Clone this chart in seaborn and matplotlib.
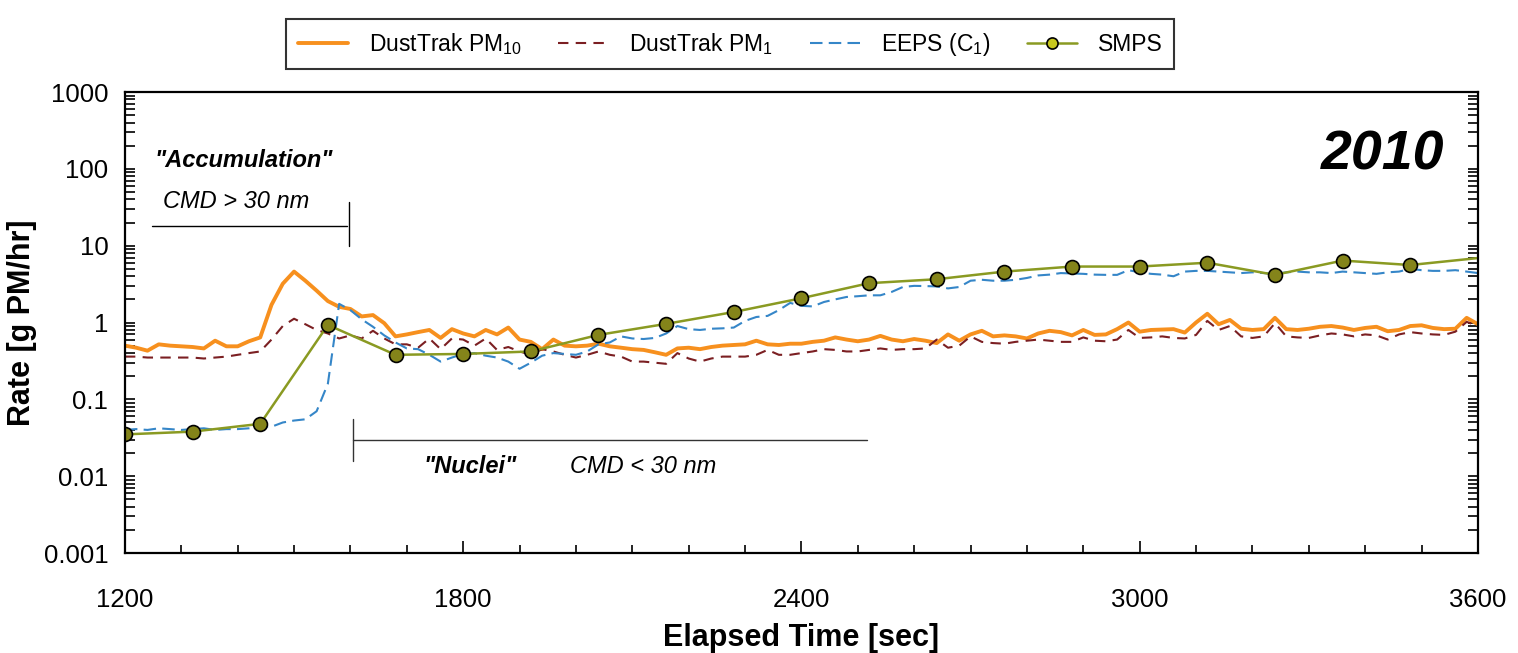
import numpy as np
import pandas as pd
import matplotlib
matplotlib.use("Agg")
import matplotlib.pyplot as plt
import matplotlib.ticker as mticker
import seaborn as sns

# Elapsed time grid for the continuous instruments (20 s spacing)
time_cont = np.arange(1200, 3601, 20)

# DustTrak PM10 [g PM/hr]
pm10 = [
    0.50, 0.47, 0.43, 0.52, 0.50, 0.49, 0.48, 0.46, 0.58, 0.49,
    0.49, 0.57, 0.64, 1.70, 3.20, 4.60, 3.50, 2.60, 1.90, 1.60,
    1.50, 1.20, 1.25, 0.98, 0.66, 0.70, 0.75, 0.80, 0.63, 0.82,
    0.72, 0.66, 0.80, 0.70, 0.86, 0.60, 0.56, 0.45, 0.60, 0.50,
    0.49, 0.50, 0.53, 0.49, 0.47, 0.45, 0.44, 0.41, 0.38, 0.46,
    0.47, 0.45, 0.48, 0.50, 0.51, 0.52, 0.58, 0.52, 0.51, 0.53,
    0.53, 0.56, 0.58, 0.64, 0.60, 0.57, 0.60, 0.67, 0.60, 0.57,
    0.61, 0.58, 0.54, 0.70, 0.58, 0.70, 0.78, 0.66, 0.68, 0.66,
    0.62, 0.72, 0.78, 0.75, 0.68, 0.80, 0.69, 0.70, 0.82, 1.00,
    0.76, 0.80, 0.81, 0.82, 0.74, 1.00, 1.30, 0.95, 1.08, 0.83,
    0.80, 0.82, 1.15, 0.82, 0.80, 0.83, 0.88, 0.90, 0.86, 0.80,
    0.85, 0.88, 0.77, 0.80, 0.90, 0.92, 0.85, 0.82, 0.83, 1.15,
    0.95,
]

# DustTrak PM1 [g PM/hr]
pm1 = [
    0.36, 0.36, 0.35, 0.35, 0.35, 0.35, 0.35, 0.34, 0.35, 0.36,
    0.38, 0.40, 0.42, 0.60, 0.90, 1.12, 0.95, 0.80, 0.72, 0.62,
    0.68, 0.62, 0.78, 0.62, 0.52, 0.52, 0.47, 0.62, 0.45, 0.62,
    0.60, 0.50, 0.62, 0.44, 0.48, 0.42, 0.38, 0.45, 0.42, 0.38,
    0.35, 0.38, 0.42, 0.38, 0.36, 0.31, 0.31, 0.30, 0.29, 0.40,
    0.34, 0.31, 0.34, 0.36, 0.36, 0.36, 0.38, 0.44, 0.38, 0.38,
    0.40, 0.42, 0.45, 0.44, 0.42, 0.42, 0.44, 0.46, 0.44, 0.45,
    0.45, 0.46, 0.60, 0.47, 0.50, 0.66, 0.56, 0.54, 0.53, 0.56,
    0.58, 0.60, 0.58, 0.56, 0.56, 0.64, 0.58, 0.57, 0.60, 0.80,
    0.63, 0.64, 0.66, 0.63, 0.62, 0.69, 1.05, 0.80, 0.90, 0.66,
    0.63, 0.66, 0.98, 0.66, 0.64, 0.63, 0.68, 0.72, 0.70, 0.66,
    0.70, 0.68, 0.60, 0.70, 0.75, 0.72, 0.70, 0.69, 0.76, 1.02,
    0.90,
]

# EEPS (C1) [g PM/hr]
eeps = [
    0.040, 0.041, 0.040, 0.042, 0.041, 0.040, 0.041, 0.042, 0.040, 0.041,
    0.041, 0.042, 0.044, 0.044, 0.050, 0.053, 0.055, 0.070, 0.16, 1.75,
    1.45, 1.10, 0.88, 0.68, 0.55, 0.46, 0.45, 0.38, 0.31, 0.35,
    0.39, 0.40, 0.37, 0.35, 0.31, 0.25, 0.30, 0.37, 0.40, 0.39,
    0.38, 0.42, 0.52, 0.55, 0.66, 0.62, 0.61, 0.63, 0.72, 0.90,
    0.82, 0.80, 0.83, 0.84, 0.86, 1.05, 1.18, 1.22, 1.45, 1.80,
    1.65, 1.62, 1.85, 2.00, 2.15, 2.20, 2.26, 2.26, 2.50, 2.90,
    3.00, 2.98, 2.95, 2.78, 2.90, 3.50, 3.60, 3.50, 3.50, 3.60,
    3.80, 4.10, 4.20, 4.40, 4.35, 4.30, 4.20, 4.17, 4.17, 4.80,
    4.50, 4.30, 4.20, 4.00, 4.60, 4.70, 4.70, 4.60, 4.50, 4.40,
    4.50, 4.40, 4.30, 4.50, 4.60, 4.50, 4.50, 4.40, 4.60, 4.50,
    4.40, 4.30, 4.50, 4.60, 5.00, 4.80, 4.70, 4.70, 4.80, 4.60,
    4.40,
]

# SMPS scans (every 120 s), last value is where the line meets the axis edge
time_smps = [1200, 1320, 1440, 1560, 1680, 1800, 1920, 2040, 2160, 2280,
             2400, 2520, 2640, 2760, 2880, 3000, 3120, 3240, 3360, 3480, 3600]
smps = [0.035, 0.038, 0.048, 0.93, 0.38, 0.39, 0.42, 0.69, 0.96, 1.37,
        2.07, 3.25, 3.66, 4.6, 5.35, 5.35, 6.0, 4.17, 6.4, 5.6, 6.9]

df_cont = pd.DataFrame({"time": time_cont, "pm10": pm10, "pm1": pm1, "eeps": eeps})
df_smps = pd.DataFrame({"time": time_smps, "smps": smps})

# %%
sns.set_theme(style="ticks")
plt.rcParams["font.family"] = ["Liberation Sans", "DejaVu Sans"]
plt.rcParams["mathtext.fontset"] = "custom"
plt.rcParams["mathtext.rm"] = "Liberation Sans"
for key in ["text.color", "axes.labelcolor", "xtick.color", "ytick.color", "axes.edgecolor"]:
    plt.rcParams[key] = "black"

fig = plt.figure(figsize=(15.18, 6.53), dpi=100)
ax = fig.add_axes([0.0823, 0.1531, 0.8913, 0.706])

sns.lineplot(data=df_cont, x="time", y="pm10", ax=ax, color="#F7901E", lw=2.8,
             label="DustTrak PM$_{10}$")
sns.lineplot(data=df_cont, x="time", y="pm1", ax=ax, color="#7B1F22", lw=1.5,
             linestyle=(0, (5, 3.5)), label="DustTrak PM$_{1}$")
sns.lineplot(data=df_cont, x="time", y="eeps", ax=ax, color="#3586C8", lw=1.5,
             linestyle=(0, (6, 3)), label="EEPS (C$_{1}$)")
sns.lineplot(data=df_smps, x="time", y="smps", ax=ax, color="#8A9A22", lw=1.8,
             marker="o", markersize=10, markerfacecolor="#84841A",
             markeredgecolor="black", markeredgewidth=1.2,
             markevery=list(range(len(time_smps) - 1)), label="SMPS")

ax.set_yscale("log")
ax.set_xlim(1200, 3600)
ax.set_ylim(0.001, 1000)
ax.xaxis.set_major_locator(mticker.MultipleLocator(600))
ax.xaxis.set_minor_locator(mticker.MultipleLocator(100))
ax.yaxis.set_major_locator(mticker.LogLocator(base=10, numticks=10))
ax.yaxis.set_minor_locator(mticker.LogLocator(base=10, subs=np.arange(2, 10), numticks=20))
ax.yaxis.set_major_formatter(mticker.FuncFormatter(lambda v, p: f"{v:g}"))
ax.yaxis.set_minor_formatter(mticker.NullFormatter())

ax.tick_params(axis="both", which="both", direction="in", colors="black", labelsize=18.5)
ax.tick_params(axis="y", which="both", left=True, right=True, length=7, width=1.2)
ax.tick_params(axis="x", which="both", top=False)
ax.tick_params(axis="x", which="major", length=9, width=1.2, pad=25)
ax.tick_params(axis="x", which="minor", length=6, width=1.2)
ax.tick_params(axis="y", which="major", pad=12)
for side in ["left", "right", "top", "bottom"]:
    ax.spines[side].set_visible(True)
    ax.spines[side].set_linewidth(1.6)
    ax.spines[side].set_color("black")

ax.set_xlabel("Elapsed Time [sec]", fontsize=22, fontweight="bold", labelpad=8)
ax.set_ylabel("Rate [g PM/hr]", fontsize=22, fontweight="bold", labelpad=5)

# Size-mode annotations
ax.text(3540, 150, "2010", fontsize=40, fontweight="bold", fontstyle="italic",
        ha="right", va="center")
ax.text(1252, 130, '"Accumulation"', fontsize=17, fontweight="bold", fontstyle="italic",
        ha="left", va="center")
ax.text(1268, 38, "CMD > 30 nm", fontsize=17, fontstyle="italic", ha="left", va="center")
ax.plot([1248, 1594], [18, 18], color="black", lw=1)
ax.plot([1598, 1598], [9.9, 37], color="black", lw=1)

ax.text(1730, 0.0135, '"Nuclei"', fontsize=17, fontweight="bold", fontstyle="italic",
        ha="left", va="center")
ax.text(1990, 0.0135, "CMD < 30 nm", fontsize=17, fontstyle="italic", ha="left", va="center")
ax.plot([1604, 2516], [0.030, 0.030], color="#333333", lw=1)
ax.plot([1604, 1604], [0.016, 0.055], color="#333333", lw=1)

handles, labels = ax.get_legend_handles_labels()
ax.get_legend().remove()
leg = fig.legend(handles, labels, loc="center", bbox_to_anchor=(0.481, 0.932), ncol=4,
                 fontsize=16.5, frameon=True, fancybox=False, edgecolor="black",
                 handlelength=2.2, columnspacing=1.6, handletextpad=0.9,
                 borderpad=0.5)
leg.get_frame().set_linewidth(1.5)
for h in leg.legend_handles:
    if h.get_marker() == "o":
        h.set_markersize(8)
        h.set_markerfacecolor("#C8C81E")

fig.savefig("out.png", dpi=100)
